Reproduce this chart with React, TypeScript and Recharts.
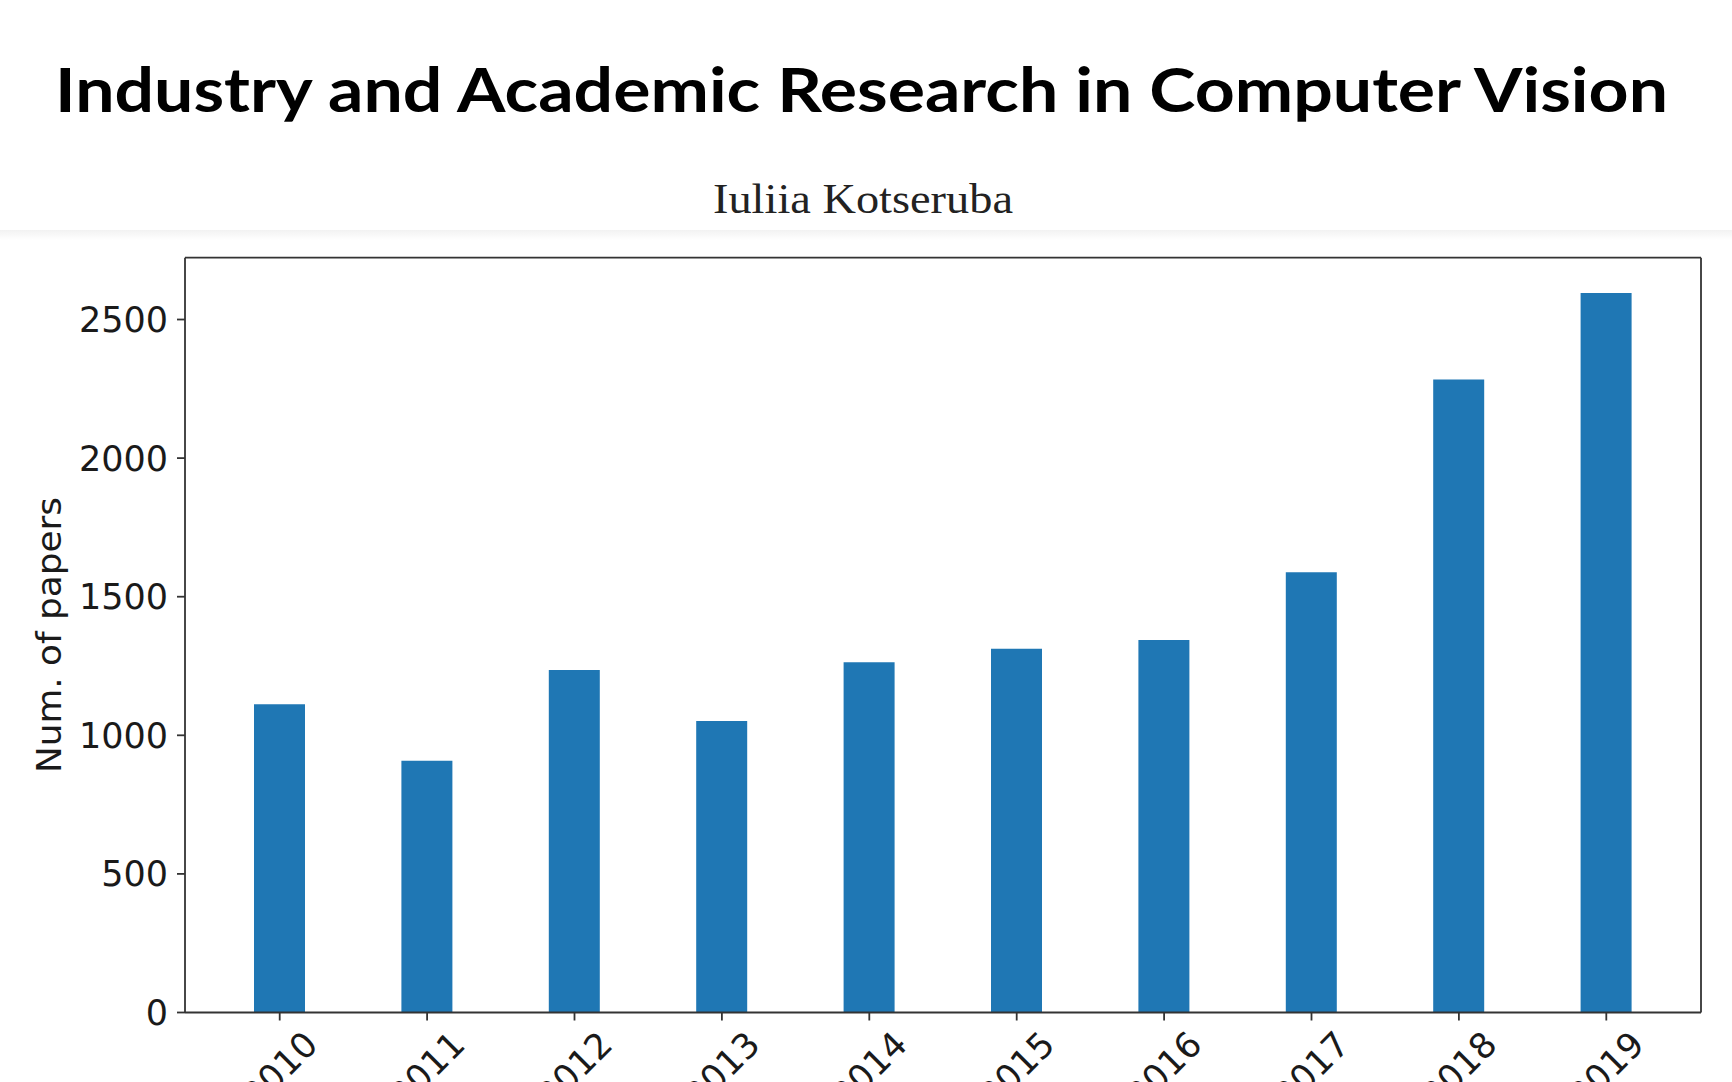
import React from 'react';
import { BarChart, Bar, XAxis, YAxis, Label } from 'recharts';

const years = ['2010', '2011', '2012', '2013', '2014', '2015', '2016', '2017', '2018', '2019'];
const papers = [1112, 908, 1236, 1052, 1264, 1312, 1344, 1588, 2284, 2596];
const yTicks = [0, 500, 1000, 1500, 2000, 2500];
const yMax = 2723;
const titleText = 'Industry and Academic Research in Computer Vision';
const subtitleText = 'Iuliia Kotseruba';
const yLabelText = 'Num. of papers';

const data = years.map((y, i) => ({ year: y, papers: papers[i] }));

const TEXT = '#1a1a1a';
const AXIS = '#333333';
const TICK_FONT = 35;

const XTick = (props: any) => {
  const { x, y, payload } = props;
  const cy = y + 47;
  return (
    <text
      x={x}
      y={cy}
      transform={`rotate(-45, ${x}, ${cy})`}
      textAnchor="middle"
      dominantBaseline="central"
      fontFamily="DejaVu Sans"
      fontSize={TICK_FONT}
      fill={TEXT}
    >
      {payload.value}
    </text>
  );
};

const YLabel = (props: any) => {
  const vb = props.viewBox || { x: 0, y: 0, width: 0, height: 0 };
  const cx = vb.x + 14;
  const cy = vb.y + vb.height / 2;
  return (
    <text
      x={cx}
      y={cy}
      transform={`rotate(-90, ${cx}, ${cy})`}
      textAnchor="middle"
      dominantBaseline="central"
      fontFamily="DejaVu Sans"
      fontSize={34}
      textLength={276}
      lengthAdjust="spacingAndGlyphs"
      fill={TEXT}
    >
      {yLabelText}
    </text>
  );
};

export default function App() {
  return (
    <div style={{ position: 'absolute', left: 0, top: 0, width: 1732, height: 1082, background: '#ffffff', overflow: 'hidden' }}>
      <svg width={1732} height={250} style={{ position: 'absolute', left: 0, top: 0 }}>
        <defs>
          <linearGradient id="sep" x1="0" y1="0" x2="0" y2="1">
            <stop offset="0%" stopColor="#f2f2f2" />
            <stop offset="100%" stopColor="#ffffff" />
          </linearGradient>
        </defs>
        <text
          x={861.5}
          y={112}
          textAnchor="middle"
          fontFamily="Lato, 'Open Sans', sans-serif"
          fontWeight={700}
          fontSize={61}
          textLength={1613}
          lengthAdjust="spacingAndGlyphs"
          fill="#000"
        >
          {titleText}
        </text>
        <text
          x={863}
          y={213}
          textAnchor="middle"
          fontFamily="'Liberation Serif', 'DejaVu Serif', serif"
          fontSize={43}
          textLength={300}
          lengthAdjust="spacingAndGlyphs"
          fill="#222"
        >
          {subtitleText}
        </text>
        <rect x={0} y={230} width={1732} height={10} fill="url(#sep)" />
      </svg>
      <div style={{ position: 'absolute', left: 0, top: 0 }}>
        <BarChart
          width={1732}
          height={1082}
          data={data}
          margin={{ top: 256.7, right: 30, bottom: 9.5, left: 35 }}
          barCategoryGap={0}
        >
          <XAxis
            dataKey="year"
            xAxisId={0}
            height={60}
            padding={{ left: 21, right: 21 }}
            tick={<XTick />}
            tickSize={8}
            tickMargin={2}
            interval={0}
            axisLine={{ stroke: AXIS, strokeWidth: 1.8 }}
            tickLine={{ stroke: AXIS, strokeWidth: 1.8 }}
          />
          <XAxis
            dataKey="year"
            xAxisId="top"
            orientation="top"
            height={1}
            tick={false}
            tickLine={false}
            axisLine={{ stroke: AXIS, strokeWidth: 1.8 }}
          />
          <YAxis
            yAxisId={0}
            width={150}
            type="number"
            domain={[0, yMax]}
            ticks={yTicks}
            interval={0}
            tickSize={8}
            tickMargin={9}
            tick={{ fontFamily: 'DejaVu Sans', fontSize: TICK_FONT, fill: TEXT }}
            axisLine={{ stroke: AXIS, strokeWidth: 1.8 }}
            tickLine={{ stroke: AXIS, strokeWidth: 1.8 }}
          >
            <Label content={<YLabel />} />
          </YAxis>
          <YAxis
            yAxisId="right"
            orientation="right"
            width={1}
            type="number"
            domain={[0, yMax]}
            tick={false}
            tickLine={false}
            axisLine={{ stroke: AXIS, strokeWidth: 1.8 }}
          />
          <Bar dataKey="papers" xAxisId={0} yAxisId={0} fill="#1f77b4" barSize={51} isAnimationActive={false} />
        </BarChart>
      </div>
    </div>
  );
}
